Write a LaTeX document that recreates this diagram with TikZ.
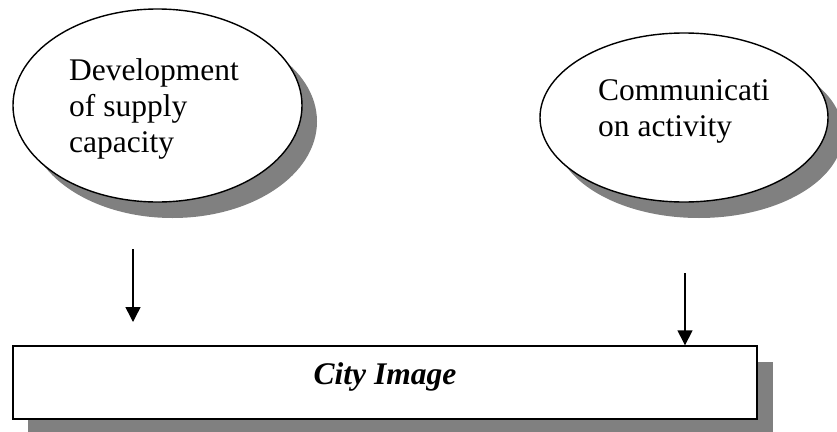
\documentclass[tikz,border=0pt]{standalone}
\usepackage{fontspec}
\setmainfont{Liberation Serif}
\usetikzlibrary{arrows.meta,shapes.geometric}
\definecolor{shadowgray}{RGB}{128,128,128}
\begin{document}
\begin{tikzpicture}[x=1pt,y=-1pt,
  outline/.style={draw=black,line width=1.4pt,fill=white},
  shade/.style={fill=shadowgray,draw=none},
  txt/.style={anchor=base west,inner sep=0pt,font=\fontsize{31.5}{36}\selectfont},
  flow/.style={line width=1.5pt,-{Triangle[width=15pt,length=15pt]}}
]
\useasboundingbox (0,0) rectangle (837,431);
% left ellipse
\fill[shade] (172.5,121.5) ellipse [x radius=144.5, y radius=96.5];
\node[outline,ellipse,inner sep=0pt,minimum width=289pt,minimum height=193pt] (dev) at (157.5,105.5) {};
\node[txt] (dev1) at (69,80) {Development};
\node[txt] (dev2) at (69,116) {of supply};
\node[txt] (dev3) at (69,152) {capacity};
% right ellipse
\fill[shade] (699,133.5) ellipse [x radius=144, y radius=84.5];
\node[outline,ellipse,inner sep=0pt,minimum width=288pt,minimum height=169pt] (com) at (684,117.5) {};
\node[txt] (com1) at (598,100) {Communicati};
\node[txt] (com2) at (598,136) {on activity};
% box
\fill[shade] (28,362) rectangle (773,435);
\node[outline,rectangle,inner sep=0pt,minimum width=744pt,minimum height=73pt] (city) at (385,382.5) {};
\node[anchor=base,inner sep=0pt,font=\fontsize{31.5}{36}\selectfont\bfseries\itshape] (citytxt) at (385,384) {City Image};
% arrows
\coordinate (a1s) at (133,249);
\coordinate (a1e) at (133,322);
\coordinate (a2s) at (685,273);
\draw[flow] (a1s) -- (a1e);
\draw[flow] (a2s) -- (a2s |- city.north);
\end{tikzpicture}
\end{document}
